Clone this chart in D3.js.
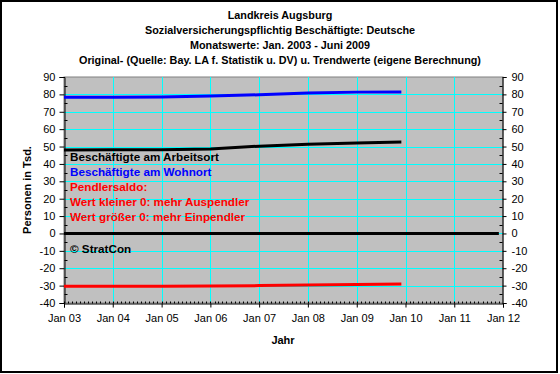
<!DOCTYPE html>
<html><head><meta charset="utf-8">
<script src="https://cdn.jsdelivr.net/npm/d3@7"></script>
<style>body{margin:0;background:#fff}svg{display:block}text{font-family:"Liberation Sans",Arial,sans-serif}</style>
</head><body><svg id="c" width="560" height="374"></svg>
<script>
const titleLines = ["Landkreis Augsburg","Sozialversicherungspflichtig Beschäftigte: Deutsche","Monatswerte: Jan. 2003 - Juni 2009","Original- (Quelle: Bay. LA f. Statistik u. DV) u. Trendwerte (eigene Berechnung)"];
const dates = ["2003-01","2004-01","2005-01","2006-01","2007-01","2008-01","2009-01","2009-12"];
const wohnort = [78.4,78.4,78.5,79.0,79.8,80.8,81.3,81.4];
const arbeitsort = [48.0,48.1,48.2,48.6,50.2,51.3,52.1,52.6];
const saldo = [-30.4,-30.3,-30.3,-30.2,-30.0,-29.7,-29.4,-29.1];
const zeroDates = ["2003-01","2011-12"];
const zeroVals = [0,0];
const xTickLabels = ["Jan 03","Jan 04","Jan 05","Jan 06","Jan 07","Jan 08","Jan 09","Jan 10","Jan 11","Jan 12"];
const yTicks = [90,80,70,60,50,40,30,20,10,0,-10,-20,-30,-40];
const legendLines = [["Beschäftigte am Arbeitsort","#000000"],["Beschäftigte am Wohnort","#0000ff"],["Pendlersaldo:","#ff0000"],["Wert kleiner 0: mehr Auspendler","#ff0000"],["Wert größer 0: mehr Einpendler","#ff0000"]];

const parse = d3.timeParse("%Y-%m");
const svg = d3.select("#c");
const L=64, R=503, T=77, B=303;
const x = d3.scaleTime().domain([parse("2003-01"), parse("2012-01")]).range([L,R]);
const y = d3.scaleLinear().domain([-40,90]).range([B,T]);

svg.append("rect").attr("x",1).attr("y",1).attr("width",556).attr("height",371).attr("fill","#fff").attr("stroke","#000").attr("stroke-width",2);

svg.append("g").selectAll("text").data(titleLines).join("text")
  .attr("x",280).attr("y",(d,i)=>19+i*15).attr("text-anchor","middle")
  .attr("font-size",10.8).attr("font-weight","bold").text(d=>d);

svg.append("rect").attr("x",L).attr("y",T).attr("width",R-L).attr("height",B-T).attr("fill","#c0c0c0").attr("stroke","#808080");

const yearTicks = xTickLabels.map((d,i)=>new Date(2003+i,0,1));
// grid
svg.append("g").selectAll("line").data(yTicks.filter(v=>v>-40&&v<90)).join("line")
  .attr("x1",L).attr("x2",R).attr("y1",d=>Math.round(y(d))+0.5).attr("y2",d=>Math.round(y(d))+0.5)
  .attr("stroke","#00ffff");
svg.append("g").selectAll("line").data(yearTicks.slice(1,-1)).join("line")
  .attr("y1",T).attr("y2",B).attr("x1",d=>Math.round(x(d))+0.5).attr("x2",d=>Math.round(x(d))+0.5)
  .attr("stroke","#00ffff");

// axes
const fmt = d=>String(d);
const axL = svg.append("g").attr("transform",`translate(${L+0.5},0)`)
  .call(d3.axisLeft(y).tickValues(yTicks).tickSize(5).tickPadding(4).tickFormat(fmt));
const axR = svg.append("g").attr("transform",`translate(${R-0.5},0)`)
  .call(d3.axisRight(y).tickValues(yTicks).tickSize(4).tickPadding(5).tickFormat(fmt));
const minorY = d3.range(-35,90,10);
axL.append("g").selectAll("line").data(minorY).join("line").attr("x1",0).attr("x2",3).attr("y1",d=>Math.round(y(d))+0.5).attr("y2",d=>Math.round(y(d))+0.5).attr("stroke","#000");
axR.append("g").selectAll("line").data(minorY).join("line").attr("x1",0).attr("x2",-3).attr("y1",d=>Math.round(y(d))+0.5).attr("y2",d=>Math.round(y(d))+0.5).attr("stroke","#000");
const axB = svg.append("g").attr("transform",`translate(0,${B+0.5})`)
  .call(d3.axisBottom(x).tickValues(yearTicks).tickSize(4).tickPadding(7).tickFormat((d,i)=>xTickLabels[i]));
axB.append("g").selectAll("line").data(d3.timeMonth.range(parse("2003-01"),parse("2012-01"))).join("line")
  .attr("x1",d=>Math.round(x(d))+0.5).attr("x2",d=>Math.round(x(d))+0.5).attr("y1",0).attr("y2",-2).attr("stroke","#000");
[axL,axR,axB].forEach(a=>{a.select(".domain").attr("stroke","#000");a.selectAll(".tick line").attr("stroke","#000");a.selectAll("text").attr("font-size",11).attr("fill","#000").attr("font-family","Liberation Sans, Arial, sans-serif");});

// series
const line = d3.line().x(d=>x(d[0])).y(d=>y(d[1]));
function series(ds,vs,color){
  svg.append("path").datum(ds.map((d,i)=>[parse(d),vs[i]])).attr("d",line).attr("fill","none").attr("stroke",color).attr("stroke-width",3);
}
series(zeroDates,zeroVals,"#000");
series(dates,wohnort,"#0000ff");
series(dates,arbeitsort,"#000");
series(dates,saldo,"#ff0000");

// legend text
svg.append("g").selectAll("text").data(legendLines).join("text")
  .attr("x",70).attr("y",(d,i)=>161+i*15).attr("font-size",11.7).attr("font-weight","bold").attr("fill",d=>d[1]).text(d=>d[0]);
svg.append("text").attr("x",70).attr("y",253).attr("font-size",11.7).attr("font-weight","bold").text("© StratCon");

// axis titles
svg.append("text").attr("transform","translate(31,190) rotate(-90)").attr("text-anchor","middle").attr("font-size",11).attr("font-weight","bold").text("Personen in Tsd.");
svg.append("text").attr("x",283).attr("y",344).attr("text-anchor","middle").attr("font-size",11).attr("font-weight","bold").text("Jahr");
</script></body></html>
